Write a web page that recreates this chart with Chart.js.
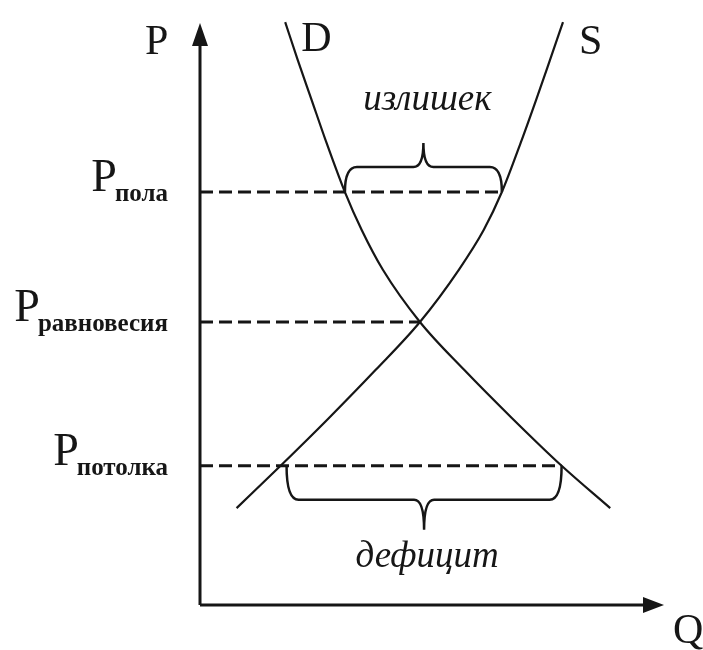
<!DOCTYPE html>
<html>
<head>
<meta charset="utf-8">
<script src="https://cdn.jsdelivr.net/npm/chart.js@4.4.1/dist/chart.umd.min.js"></script>
<style>
  body { margin: 0; background: #fff; }
  canvas { display: block; }
</style>
</head>
<body>
<canvas id="myChart" width="703" height="650"></canvas>
<script>
    // demand and supply curves (Q, P)
    var demandQ = [1.84, 2.11, 2.41, 2.71, 3.13, 3.49, 3.95, 4.75, 5.71, 6.74, 7.81, 8.86];
    var demandP = [10.05, 9.40, 8.71, 8.02, 7.12, 6.47, 5.78, 4.88, 4.05, 3.22, 2.40, 1.67];
    var supplyQ = [0.79, 1.74, 2.78, 3.79, 4.75, 5.59, 6.13, 6.52, 6.95, 7.26, 7.56, 7.84];
    var supplyP = [1.67, 2.40, 3.22, 4.05, 4.88, 5.78, 6.47, 7.12, 8.02, 8.71, 9.40, 10.05];

    // price levels on the P axis
    var priceNames = ['пола', 'равновесия', 'потолка'];
    var priceLevels = [7.12, 4.88, 2.40];
    var levelEndQ = [6.52, 4.75, 7.81];

    // surplus / shortage braces
    var gapNames = ['излишек', 'дефицит'];
    var gapFromQ = [3.13, 1.74];
    var gapToQ = [6.52, 7.81];
    var gapPrice = [7.12, 2.40];

    var INK = '#161616';
    var SERIF = '"Liberation Serif"';

    function pts(xs, ys) {
        return xs.map(function (x, i) { return { x: x, y: ys[i] }; });
    }

    // plain text, no transforms (scaling spoils the glyphs)
    function txt(ctx, s, x, y, font, align) {
        ctx.font = font;
        ctx.textAlign = align || 'left';
        ctx.textBaseline = 'alphabetic';
        ctx.fillText(s, x, y);
        return ctx.measureText(s).width;
    }

    function brace(ctx, x1, x2, yb, dir, depth, tip) {
        var yh = yb + dir * depth;
        var yt = yh + dir * tip;
        var xm = (x1 + x2) / 2;
        var r = 12, r2 = 10;
        ctx.beginPath();
        ctx.moveTo(x1, yb);
        ctx.quadraticCurveTo(x1, yh, x1 + r, yh);
        ctx.lineTo(xm - r2, yh);
        ctx.quadraticCurveTo(xm, yh, xm, yt);
        ctx.quadraticCurveTo(xm, yh, xm + r2, yh);
        ctx.lineTo(x2 - r, yh);
        ctx.quadraticCurveTo(x2, yh, x2, yb);
        ctx.stroke();
        return yh;
    }

    var diagram = {
        id: 'diagram',
        afterDatasetsDraw: function (chart) {
            var ctx = chart.ctx;
            var sx = chart.scales.x, sy = chart.scales.y;
            var x0 = sx.getPixelForValue(0), xMax = sx.getPixelForValue(10);
            var y0 = sy.getPixelForValue(0), yMax = sy.getPixelForValue(10);
            ctx.save();
            ctx.strokeStyle = INK;
            ctx.fillStyle = INK;

            // axes with arrows
            ctx.lineWidth = 3;
            ctx.beginPath();
            ctx.moveTo(x0, y0);
            ctx.lineTo(x0, yMax + 18);
            ctx.moveTo(x0, y0);
            ctx.lineTo(xMax - 16, y0);
            ctx.stroke();
            ctx.beginPath();
            ctx.moveTo(x0, yMax - 2);
            ctx.lineTo(x0 - 8, yMax + 21);
            ctx.lineTo(x0 + 8, yMax + 21);
            ctx.closePath();
            ctx.fill();
            ctx.beginPath();
            ctx.moveTo(xMax + 1, y0);
            ctx.lineTo(xMax - 20, y0 - 8);
            ctx.lineTo(xMax - 20, y0 + 8);
            ctx.closePath();
            ctx.fill();

            // axis letters and curve names
            var big = '42px ' + SERIF;
            txt(ctx, 'P', 145, 54, big);
            txt(ctx, 'Q', 673, 643, big);
            txt(ctx, 'D', sx.getPixelForValue(demandQ[0]) + 16, 51, big);
            txt(ctx, 'S', sx.getPixelForValue(supplyQ[supplyQ.length - 1]) + 16, 54, big);

            // price level labels with subscripts
            priceLevels.forEach(function (p, i) {
                var yy = sy.getPixelForValue(p);
                var w = txt(ctx, priceNames[i], 168, yy + 9, 'bold 25px ' + SERIF, 'right');
                txt(ctx, 'P', 168 - w + 2, yy - 1, '46px ' + SERIF, 'right');
            });

            // braces with captions
            ctx.lineWidth = 2.5;
            var yh1 = brace(ctx, sx.getPixelForValue(gapFromQ[0]), sx.getPixelForValue(gapToQ[0]),
                sy.getPixelForValue(gapPrice[0]), -1, 25, 24);
            var yh2 = brace(ctx, sx.getPixelForValue(gapFromQ[1]) + 6, sx.getPixelForValue(gapToQ[1]),
                sy.getPixelForValue(gapPrice[1]), 1, 34, 30);
            var xm1 = (sx.getPixelForValue(gapFromQ[0]) + sx.getPixelForValue(gapToQ[0])) / 2 + 4;
            var xm2 = (sx.getPixelForValue(gapFromQ[1]) + sx.getPixelForValue(gapToQ[1])) / 2 + 6;
            txt(ctx, gapNames[0], xm1, yh1 - 57, 'italic 37px ' + SERIF, 'center');
            txt(ctx, gapNames[1], xm2, yh2 + 67, 'italic 37px ' + SERIF, 'center');
            ctx.restore();
        }
    };

    var dashed = priceLevels.map(function (p, i) {
        return {
            data: [{ x: 0, y: p }, { x: levelEndQ[i], y: p }],
            borderColor: INK,
            borderWidth: 3,
            borderDash: [13, 6],
            pointRadius: 0
        };
    });

    var ctx = document.getElementById('myChart').getContext('2d');
    var chart = new Chart(ctx, {
        type: 'line',
        data: {
            datasets: [{
                label: 'D',
                data: pts(demandQ, demandP),
                borderColor: INK,
                borderWidth: 2.2,
                pointRadius: 0,
                cubicInterpolationMode: 'monotone'
            }, {
                label: 'S',
                data: pts(supplyQ, supplyP),
                borderColor: INK,
                borderWidth: 2.2,
                pointRadius: 0,
                cubicInterpolationMode: 'monotone'
            }].concat(dashed)
        },
        options: {
            responsive: false,
            animation: false,
            layout: { padding: { left: 200, right: 40, top: 25, bottom: 45 } },
            datasets: { line: { clip: false } },
            plugins: { legend: { display: false }, tooltip: { enabled: false } },
            scales: {
                x: { type: 'linear', min: 0, max: 10, display: false },
                y: { type: 'linear', min: 0, max: 10, display: false }
            }
        },
        plugins: [diagram]
    });
</script>
</body>
</html>
